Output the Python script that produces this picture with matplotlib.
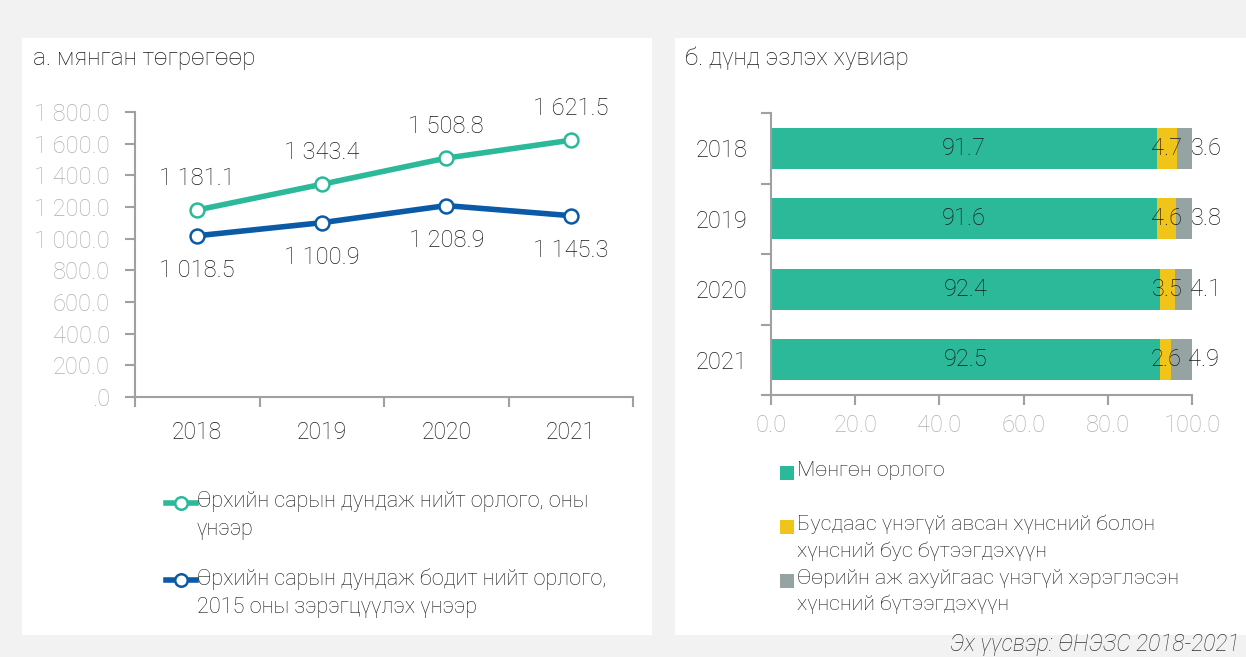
import matplotlib
matplotlib.use("Agg")
import matplotlib.pyplot as plt
from matplotlib.patches import Rectangle
from matplotlib.lines import Line2D
import numpy as np

plt.rcParams['font.family'] = ['Roboto', 'DejaVu Sans']
plt.rcParams['font.weight'] = 'light'

years = ['2018', '2019', '2020', '2021']
nominal = [1181.1, 1343.4, 1508.8, 1621.5]
real = [1018.5, 1100.9, 1208.9, 1145.3]
nominal_lbl = ['1 181.1', '1 343.4', '1 508.8', '1 621.5']
real_lbl = ['1 018.5', '1 100.9', '1 208.9', '1 145.3']
yticks = [0, 200, 400, 600, 800, 1000, 1200, 1400, 1600, 1800]
ytick_lbl = ['.0', '200.0', '400.0', '600.0', '800.0', '1 000.0', '1 200.0', '1 400.0', '1 600.0', '1 800.0']

money = [91.7, 91.6, 92.4, 92.5]
gifts = [4.7, 4.6, 3.5, 2.6]
own = [3.6, 3.8, 4.1, 4.9]
xticks_r = [0, 20, 40, 60, 80, 100]

leg_left = ['Өрхийн сарын дундаж нийт орлого, оны\nүнээр',
            'Өрхийн сарын дундаж бодит нийт орлого,\n2015 оны зэрэгцүүлэх үнээр']
leg_right = ['Мөнгөн орлого',
             'Бусдаас үнэгүй авсан хүнсний болон\nхүнсний бус бүтээгдэхүүн',
             'Өөрийн аж ахуйгаас үнэгүй хэрэглэсэн\nхүнсний бүтээгдэхүүн']

TEAL = '#2bb99a'
BLUE = '#0a5aa8'
YEL = '#f0c419'
GRAY = '#95a3a3'
TICKGRAY = '#b0b0b0'
SPINE = '#a0a0a0'
TXT = '#1a1a1a'

W, H = 1246, 657
fig = plt.figure(figsize=(W / 100, H / 100), dpi=100)
fig.patch.set_facecolor('#f2f2f2')

def fx(x): return x / W
def fy(y): return 1 - y / H

# white panels
fig.patches.append(Rectangle((fx(22), fy(635)), fx(652 - 22), (635 - 38) / H,
                             transform=fig.transFigure, facecolor='white', edgecolor='none', zorder=-5))
fig.patches.append(Rectangle((fx(675), fy(635)), fx(1246 - 675), (635 - 38) / H,
                             transform=fig.transFigure, facecolor='white', edgecolor='none', zorder=-5))

fig.text(fx(33), fy(58), 'а. мянган төгрөгөөр', fontsize=17.5, va='center', ha='left', color=TXT)
fig.text(fx(685), fy(58), 'б. дүнд эзлэх хувиар', fontsize=17.3, va='center', ha='left', color=TXT)
fig.text(fx(1240), fy(645), 'Эх үүсвэр: ӨНЭЗС 2018-2021', fontsize=16.5, style='italic',
         va='center', ha='right', color='#333333')

# ---------- left line chart ----------
ax = fig.add_axes([fx(135), fy(397), fx(633 - 135), (397 - 112) / H])
ax.set_facecolor('none')
x = np.arange(len(years))
ax.plot(x, nominal, color=TEAL, lw=4, marker='o', ms=10, mfc='white', mec=TEAL, mew=1.8, zorder=3)
ax.plot(x, real, color=BLUE, lw=4, marker='o', ms=10, mfc='white', mec=BLUE, mew=1.8, zorder=3)
ax.set_xlim(-0.5, 3.5)
ax.set_ylim(0, 1800)
ax.set_yticks(yticks)
ax.set_yticklabels(ytick_lbl, color=TICKGRAY, fontsize=17)
ax.set_xticks(x)
ax.set_xticklabels(years, fontsize=16.5, color=TXT)
ax.set_xticks([-0.5, 0.5, 1.5, 2.5, 3.5], minor=True)
ax.tick_params(axis='x', which='major', length=0, pad=17)
ax.tick_params(axis='x', which='minor', length=7, color=SPINE, width=1.5)
ax.tick_params(axis='y', length=7, color=SPINE, width=1.5, pad=11)
for s in ['top', 'right']:
    ax.spines[s].set_visible(False)
for s in ['left', 'bottom']:
    ax.spines[s].set_color(SPINE)
    ax.spines[s].set_linewidth(1.5)
for i in range(4):
    ax.annotate(nominal_lbl[i], (x[i], nominal[i]), xytext=(0, 23), textcoords='offset points',
                ha='center', va='center', fontsize=17, color=TXT)
    ax.annotate(real_lbl[i], (x[i], real[i]), xytext=(0, -25), textcoords='offset points',
                ha='center', va='center', fontsize=17, color=TXT)

# left legend
for col, lbl, yy in [(TEAL, leg_left[0], 503), (BLUE, leg_left[1], 580)]:
    fig.lines.append(Line2D([fx(166), fx(196)], [fy(yy), fy(yy)], transform=fig.transFigure,
                            color=col, lw=4))
    fig.lines.append(Line2D([fx(181)], [fy(yy)], transform=fig.transFigure, color=col, lw=0,
                            marker='o', ms=9, mfc='white', mec=col, mew=1.8))
    fig.text(fx(197), fy(yy - 12), lbl, fontsize=15.6, va='top', ha='left', color=TXT,
             linespacing=1.45)

# ---------- right stacked bars ----------
axr = fig.add_axes([fx(771), fy(395), fx(1192 - 771), (395 - 113) / H])
axr.set_facecolor('none')
yr = np.arange(len(years))
bh = 0.58
axr.barh(yr, money, height=bh, color=TEAL, zorder=2)
axr.barh(yr, gifts, left=money, height=bh, color=YEL, zorder=2)
left2 = [m + g for m, g in zip(money, gifts)]
axr.barh(yr, own, left=left2, height=bh, color=GRAY, zorder=2)
axr.set_ylim(3.5, -0.5)
axr.set_xlim(0, 100)
axr.set_yticks(yr)
axr.set_yticklabels(years, fontsize=17, color=TXT)
axr.set_yticks([-0.5, 0.5, 1.5, 2.5, 3.5], minor=True)
axr.tick_params(axis='y', which='major', length=0, pad=17)
axr.tick_params(axis='y', which='minor', length=7, color=SPINE, width=1.5)
axr.set_xticks(xticks_r)
axr.set_xticklabels([f'{v:.1f}' for v in xticks_r], fontsize=17, color=TICKGRAY)
axr.tick_params(axis='x', length=7, color=SPINE, width=1.5, pad=7)
for s in ['top', 'right']:
    axr.spines[s].set_visible(False)
for s in ['left', 'bottom']:
    axr.spines[s].set_color(SPINE)
    axr.spines[s].set_linewidth(1.5)
for i in range(4):
    axr.text(money[i] / 2, yr[i], f'{money[i]:.1f}', ha='center', va='center', fontsize=17, color=TXT)
    axr.text(money[i] + gifts[i] / 2, yr[i], f'{gifts[i]:.1f}', ha='center', va='center', fontsize=17, color=TXT)
    axr.annotate(f'{own[i]:.1f}', (left2[i] + own[i] / 2, yr[i]), xytext=(16, 0),
                 textcoords='offset points', ha='center', va='center', fontsize=17, color=TXT)

# right legend
for col, lbl, yy in [(TEAL, leg_right[0], 473), (YEL, leg_right[1], 527), (GRAY, leg_right[2], 581)]:
    fig.patches.append(Rectangle((fx(780), fy(yy + 7)), fx(14), 14 / H, transform=fig.transFigure,
                                 facecolor=col, edgecolor='none'))
    fig.text(fx(797), fy(yy - 12), lbl, fontsize=15.4, va='top', ha='left', color=TXT,
             linespacing=1.45)

fig.savefig('out.png', dpi=100, facecolor=fig.get_facecolor())
